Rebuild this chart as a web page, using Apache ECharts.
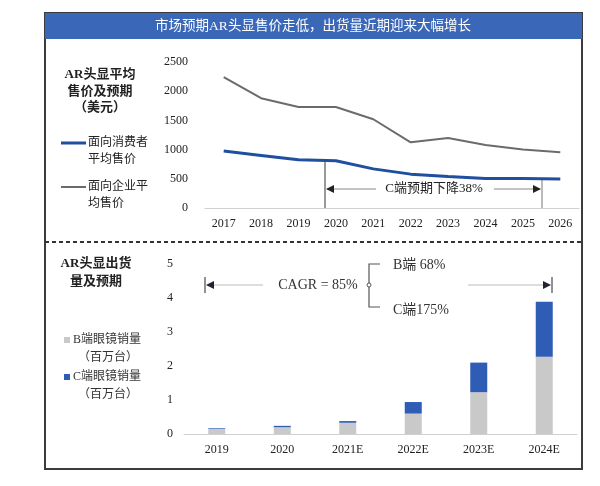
<!DOCTYPE html>
<html><head><meta charset="utf-8">
<script src="https://cdn.jsdelivr.net/npm/echarts@6/dist/echarts.min.js"></script>
<style>html,body{margin:0;padding:0;background:#fff}#c{width:600px;height:486px}</style>
</head><body><div id="c"></div>
<script>
var years = ['2017','2018','2019','2020','2021','2022','2023','2024','2025','2026'];
var consumerPrice = [975, 900, 825, 810, 670, 580, 540, 505, 505, 495];
var enterprisePrice = [2240, 1880, 1730, 1730, 1520, 1125, 1200, 1080, 1000, 955];
var priceTicks = [0, 500, 1000, 1500, 2000, 2500];

var shipYears = ['2019','2020','2021E','2022E','2023E','2024E'];
var bShip = [0.15, 0.20, 0.33, 0.60, 1.23, 2.27];
var cShip = [0.02, 0.04, 0.05, 0.34, 0.87, 1.62];
var shipTicks = [0, 1, 2, 3, 4, 5];

var SERIF = '"Liberation Serif","Noto Sans CJK SC",serif';
var CJK = '"Liberation Serif","Noto Sans CJK SC",serif';
var BLUE = '#1f4f9e', GREY = '#6b6b6b', BARGREY = '#c9c9c9', BARBLUE = '#2f5db5';

var chart = echarts.init(document.getElementById('c'));

function arrowHead(x, y, dir, color) {
  var p = dir < 0 ? [[x, y], [x + 8, y - 4], [x + 8, y + 4]] : [[x, y], [x - 8, y - 4], [x - 8, y + 4]];
  return {type: 'polygon', shape: {points: p}, style: {fill: color}, z: 10};
}

var graphics = [
  {type: 'rect', shape: {x: 45, y: 13, width: 537, height: 456}, style: {fill: 'none', stroke: '#3c3c3c', lineWidth: 2}, z: 1},
  {type: 'rect', shape: {x: 45, y: 13, width: 537, height: 26}, style: {fill: '#3a67b7'}, z: 2},
  {type: 'text', x: 313, y: 26, style: {text: '市场预期AR头显售价走低，出货量近期迎来大幅增长', fill: '#fff', font: '13.5px ' + CJK, align: 'center', verticalAlign: 'middle'}, z: 3},
  {type: 'line', shape: {x1: 45, y1: 242, x2: 582, y2: 242}, style: {stroke: '#333', lineWidth: 2, lineDash: [4, 3]}, z: 2},
  {type: 'text', x: 100, y: 75, style: {text: 'AR头显平均', fill: '#222', font: 'bold 13px ' + CJK, align: 'center', verticalAlign: 'middle'}},
  {type: 'text', x: 100, y: 92, style: {text: '售价及预期', fill: '#222', font: 'bold 13px ' + CJK, align: 'center', verticalAlign: 'middle'}},
  {type: 'text', x: 100, y: 108, style: {text: '（美元）', fill: '#222', font: 'bold 13px ' + CJK, align: 'center', verticalAlign: 'middle'}},
  {type: 'line', shape: {x1: 61, y1: 143, x2: 86, y2: 143}, style: {stroke: BLUE, lineWidth: 3}},
  {type: 'text', x: 88, y: 143, style: {text: '面向消费者', fill: '#222', font: '12px ' + CJK, verticalAlign: 'middle'}},
  {type: 'text', x: 88, y: 160, style: {text: '平均售价', fill: '#222', font: '12px ' + CJK, verticalAlign: 'middle'}},
  {type: 'line', shape: {x1: 61, y1: 187, x2: 86, y2: 187}, style: {stroke: GREY, lineWidth: 2}},
  {type: 'text', x: 88, y: 187, style: {text: '面向企业平', fill: '#222', font: '12px ' + CJK, verticalAlign: 'middle'}},
  {type: 'text', x: 88, y: 204, style: {text: '均售价', fill: '#222', font: '12px ' + CJK, verticalAlign: 'middle'}},
  {type: 'line', shape: {x1: 325, y1: 161, x2: 325, y2: 208}, style: {stroke: '#333', lineWidth: 1}},
  {type: 'line', shape: {x1: 542, y1: 179, x2: 542, y2: 208}, style: {stroke: '#777', lineWidth: 1}},
  {type: 'line', shape: {x1: 327, y1: 189, x2: 376, y2: 189}, style: {stroke: '#888', lineWidth: 1}},
  {type: 'line', shape: {x1: 494, y1: 189, x2: 540, y2: 189}, style: {stroke: '#888', lineWidth: 1}},
  arrowHead(326, 189, -1, '#222'),
  arrowHead(541, 189, 1, '#222'),
  {type: 'text', x: 434, y: 189, style: {text: 'C端预期下降38%', fill: '#222', font: '13px ' + SERIF, align: 'center', verticalAlign: 'middle'}},
  {type: 'text', x: 96, y: 264, style: {text: 'AR头显出货', fill: '#222', font: 'bold 13px ' + CJK, align: 'center', verticalAlign: 'middle'}},
  {type: 'text', x: 96, y: 282, style: {text: '量及预期', fill: '#222', font: 'bold 13px ' + CJK, align: 'center', verticalAlign: 'middle'}},
  {type: 'rect', shape: {x: 64, y: 337, width: 6, height: 6}, style: {fill: BARGREY}},
  {type: 'text', x: 73, y: 340, style: {text: 'B端眼镜销量', fill: '#333', font: '12px ' + CJK, verticalAlign: 'middle'}},
  {type: 'text', x: 78, y: 358, style: {text: '（百万台）', fill: '#333', font: '12px ' + CJK, verticalAlign: 'middle'}},
  {type: 'rect', shape: {x: 64, y: 374, width: 6, height: 6}, style: {fill: BARBLUE}},
  {type: 'text', x: 73, y: 377, style: {text: 'C端眼镜销量', fill: '#333', font: '12px ' + CJK, verticalAlign: 'middle'}},
  {type: 'text', x: 78, y: 395, style: {text: '（百万台）', fill: '#333', font: '12px ' + CJK, verticalAlign: 'middle'}},
  {type: 'line', shape: {x1: 205, y1: 277, x2: 205, y2: 293}, style: {stroke: '#223', lineWidth: 1}},
  {type: 'line', shape: {x1: 552, y1: 277, x2: 552, y2: 293}, style: {stroke: '#223', lineWidth: 1}},
  {type: 'line', shape: {x1: 207, y1: 285, x2: 263, y2: 285}, style: {stroke: '#bbb', lineWidth: 1}},
  {type: 'line', shape: {x1: 468, y1: 285, x2: 550, y2: 285}, style: {stroke: '#bbb', lineWidth: 1}},
  arrowHead(206, 285, -1, '#223'),
  arrowHead(551, 285, 1, '#223'),
  {type: 'text', x: 318, y: 285, style: {text: 'CAGR = 85%', fill: '#333', font: '14px ' + SERIF, align: 'center', verticalAlign: 'middle'}},
  {type: 'polyline', shape: {points: [[380, 264], [369, 264], [369, 307], [380, 307]]}, style: {stroke: '#555', lineWidth: 1.2, fill: 'none'}},
  {type: 'circle', shape: {cx: 369, cy: 285, r: 2}, style: {fill: '#fff', stroke: '#555', lineWidth: 1}},
  {type: 'text', x: 393, y: 265, style: {text: 'B端 68%', fill: '#333', font: '14px ' + SERIF, verticalAlign: 'middle'}},
  {type: 'text', x: 393, y: 310, style: {text: 'C端175%', fill: '#333', font: '14px ' + SERIF, verticalAlign: 'middle'}}
];

var option = {
  animation: false,
  backgroundColor: '#fff',
  grid: [
    {left: 205, right: 21, top: 62, bottom: 278},
    {left: 184, right: 23, top: 264, bottom: 52}
  ],
  xAxis: [
    {type: 'category', gridIndex: 0, data: years, boundaryGap: true,
     axisLine: {lineStyle: {color: '#d0d0d0', width: 1}}, axisTick: {show: false},
     axisLabel: {color: '#222', fontFamily: SERIF, fontSize: 12, margin: 10}},
    {type: 'category', gridIndex: 1, data: shipYears, boundaryGap: true,
     axisLine: {lineStyle: {color: '#d0d0d0', width: 1}}, axisTick: {show: false},
     axisLabel: {color: '#222', fontFamily: SERIF, fontSize: 12, margin: 10}}
  ],
  yAxis: [
    {type: 'value', gridIndex: 0, min: priceTicks[0], max: priceTicks[priceTicks.length - 1], interval: 500,
     splitLine: {show: false}, axisLine: {show: false}, axisTick: {show: false},
     axisLabel: {color: '#222', fontFamily: SERIF, fontSize: 12, margin: 17, formatter: function (v) { return String(v); }}},
    {type: 'value', gridIndex: 1, min: shipTicks[0], max: shipTicks[shipTicks.length - 1], interval: 1,
     splitLine: {show: false}, axisLine: {show: false}, axisTick: {show: false},
     axisLabel: {color: '#222', fontFamily: SERIF, fontSize: 12, margin: 11, formatter: function (v) { return String(v); }}}
  ],
  series: [
    {name: '面向企业平均售价', type: 'line', xAxisIndex: 0, yAxisIndex: 0, data: enterprisePrice,
     symbol: 'none', lineStyle: {color: GREY, width: 2}, itemStyle: {color: GREY}},
    {name: '面向消费者平均售价', type: 'line', xAxisIndex: 0, yAxisIndex: 0, data: consumerPrice,
     symbol: 'none', lineStyle: {color: BLUE, width: 3}, itemStyle: {color: BLUE}},
    {name: 'B端眼镜销量（百万台）', type: 'bar', xAxisIndex: 1, yAxisIndex: 1, stack: 's', data: bShip,
     barWidth: 17, itemStyle: {color: BARGREY}},
    {name: 'C端眼镜销量（百万台）', type: 'bar', xAxisIndex: 1, yAxisIndex: 1, stack: 's', data: cShip,
     barWidth: 17, itemStyle: {color: BARBLUE}}
  ],
  graphic: graphics
};
chart.setOption(option);
</script>
</body></html>
